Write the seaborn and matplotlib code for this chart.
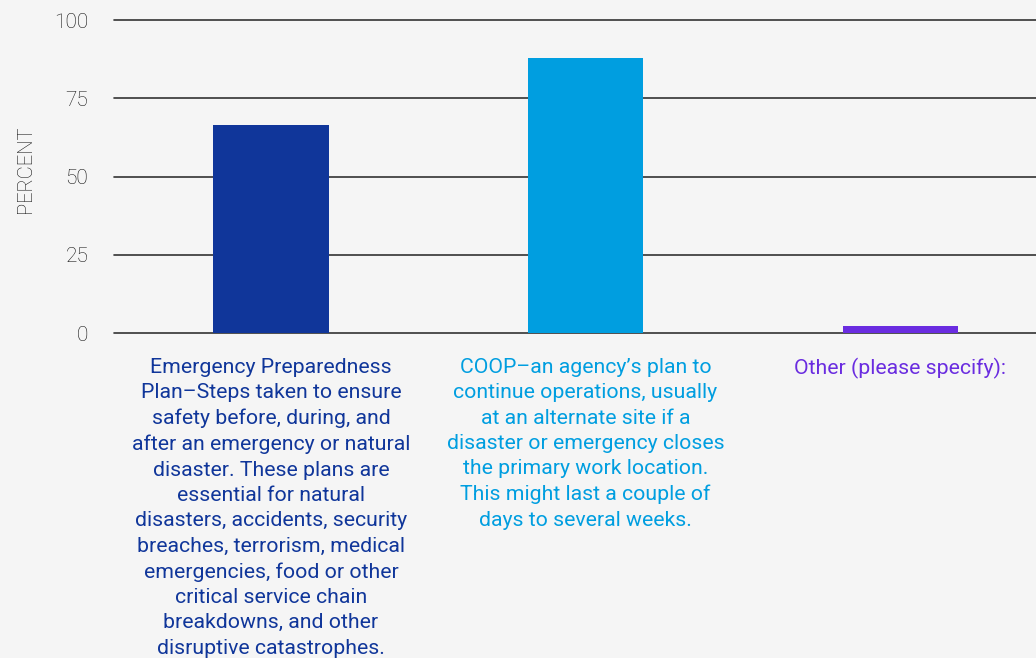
import pandas as pd
import matplotlib
matplotlib.use("Agg")
import matplotlib.pyplot as plt
import seaborn as sns

categories = [
    "Emergency Preparedness\nPlan\u2013Steps taken to ensure\nsafety before, during, and\nafter an emergency or natural\n"
    "disaster. These plans are\nessential for natural\ndisasters, accidents, security\nbreaches, terrorism, medical\n"
    "emergencies, food or other\ncritical service chain\nbreakdowns, and other\ndisruptive catastrophes.",
    "COOP\u2013an agency\u2019s plan to\ncontinue operations, usually\nat an alternate site if a\n"
    "disaster or emergency closes\nthe primary work location.\nThis might last a couple of\ndays to several weeks.",
    "Other (please specify):",
]
percent = [66.5, 88, 2.3]
colors = ["#10369a", "#009ee0", "#6a2ce0"]
yticks = [0, 25, 50, 75, 100]

BG = "#f5f5f5"

sns.set_theme(style="white")
plt.rcParams["font.family"] = ["Roboto", "DejaVu Sans"]

df = pd.DataFrame({"category": categories, "percent": percent})

fig = plt.figure(figsize=(10.36, 6.58), dpi=100, facecolor=BG)
ax = fig.add_axes([0.110, 0.4939, 0.890, 0.4757])
ax.set_facecolor(BG)

sns.barplot(data=df, x="category", y="percent", hue="category",
            palette=colors, width=0.366, legend=False, ax=ax,
            saturation=1, linewidth=0)

ax.set_ylim(0, 100)
ax.set_xlim(-0.499, 2.432)
ax.set_yticks(yticks)
ax.set_yticklabels([str(t) for t in yticks], fontsize=15, color="#111111",
                   fontweight="light")
ax.yaxis.grid(True, color="#333333", linewidth=1.2)
for gl in ax.get_ygridlines():
    gl.set_clip_on(False)
ax.set_axisbelow(True)
ax.tick_params(axis="y", length=0, pad=18.5)
ax.tick_params(axis="x", length=0, pad=18)
for s in ax.spines.values():
    s.set_visible(False)

ax.set_xlabel("")
ax.set_ylabel("PERCENT", fontsize=14.5, color="#111111", fontweight="light")
ax.yaxis.set_label_coords(-0.0857, 0.524)

for lbl, c in zip(ax.get_xticklabels(), colors):
    lbl.set_color(c)
    lbl.set_fontsize(15.3)
    lbl.set_linespacing(1.42)
    lbl.set_ha("center")
    lbl.set_va("top")

fig.savefig("out.png", dpi=100, facecolor=BG)
